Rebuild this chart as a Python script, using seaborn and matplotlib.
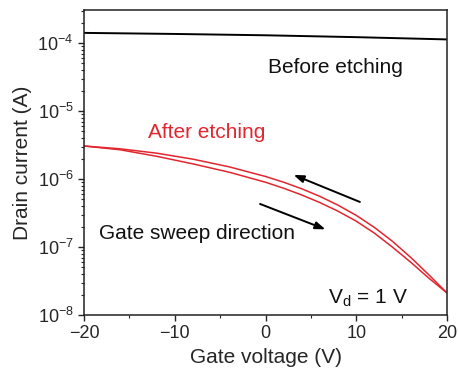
import numpy as np
import pandas as pd
import matplotlib
matplotlib.use("Agg")
import matplotlib.pyplot as plt
from matplotlib.ticker import LogLocator, NullFormatter, MultipleLocator
import seaborn as sns

# Transfer curves (drain current vs gate voltage)
before_vg = [-20, -10, 0, 10, 20]
before_id = [1.41e-4, 1.36e-4, 1.30e-4, 1.22e-4, 1.13e-4]

after_vg = [-20, -16, -12, -8, -4, 0, 2, 4, 6, 8, 10, 12, 14, 16, 18, 20]
after_id_forward = [3.06e-6, 2.69e-6, 2.16e-6, 1.67e-6, 1.26e-6, 8.97e-7, 7.32e-7,
                    5.82e-7, 4.50e-7, 3.36e-7, 2.40e-7, 1.60e-7, 9.93e-8, 5.98e-8,
                    3.48e-8, 2.11e-8]
after_id_backward = [3.06e-6, 2.78e-6, 2.40e-6, 1.96e-6, 1.51e-6, 1.09e-6, 8.97e-7,
                     7.18e-7, 5.55e-7, 4.12e-7, 2.92e-7, 1.94e-7, 1.21e-7, 7.03e-8,
                     3.90e-8, 2.11e-8]

sns.set_style("ticks")
plt.rcParams["font.family"] = ["Liberation Sans", "DejaVu Sans"]

RED = "#e2262f"

fig = plt.figure(figsize=(4.58, 3.76), dpi=100)
ax = fig.add_axes([0.1834, 0.1622, 0.7926, 0.8112])

df_before = pd.DataFrame({"vg": before_vg, "id": before_id})
df_fwd = pd.DataFrame({"vg": after_vg, "id": after_id_forward})
df_bwd = pd.DataFrame({"vg": after_vg[::-1], "id": after_id_backward[::-1]})

sns.lineplot(data=df_before, x="vg", y="id", color="black", lw=1.4, ax=ax, sort=False)
sns.lineplot(data=df_fwd, x="vg", y="id", color=RED, lw=1.1, ax=ax, sort=False)
sns.lineplot(data=df_bwd, x="vg", y="id", color=RED, lw=1.1, ax=ax, sort=False)

ax.set_yscale("log")
ax.set_xlim(-20, 20)
ax.set_ylim(1e-8, 3.06e-4)

ax.xaxis.set_major_locator(MultipleLocator(10))
ax.xaxis.set_minor_locator(MultipleLocator(5))
ax.yaxis.set_major_locator(LogLocator(base=10, numticks=10))
ax.yaxis.set_minor_locator(LogLocator(base=10, subs=np.arange(2, 10), numticks=20))
ax.yaxis.set_minor_formatter(NullFormatter())
ax.set_xticklabels([f"{int(v)}".replace("-", "\u2212") for v in ax.get_xticks()])

ax.tick_params(axis="both", which="major", labelsize=13, direction="out", length=4, width=1)
ax.tick_params(axis="both", which="minor", direction="out", length=2.5, width=0.8)

for s in ax.spines.values():
    s.set_visible(True)
    s.set_linewidth(1.1)
    s.set_color("#222222")

ax.set_xlabel("Gate voltage (V)", fontsize=15, labelpad=4)
ax.set_ylabel("Drain current (A)", fontsize=15, labelpad=4)

ax.text(0.3, 4.4e-5, "Before etching", fontsize=15, color="#111111", va="center", ha="left")
ax.text(-13.0, 4.9e-6, "After etching", fontsize=15, color=RED, va="center", ha="left")
ax.text(-18.4, 1.6e-7, "Gate sweep direction", fontsize=15, color="#111111", va="center", ha="left")
ax.text(6.9, 1.78e-8, r"V$_\mathregular{d}$ = 1 V", fontsize=15, color="#111111", va="center", ha="left")

arrow = dict(arrowstyle="-|>,head_length=0.6,head_width=0.22", color="black", lw=1.4,
             mutation_scale=10, shrinkA=0, shrinkB=0)
ax.annotate("", xy=(3.1, 1.15e-6), xytext=(10.4, 4.6e-7), arrowprops=arrow)
ax.annotate("", xy=(6.6, 1.82e-7), xytext=(-0.6, 4.3e-7), arrowprops=arrow)

fig.savefig("out.png", dpi=100)
